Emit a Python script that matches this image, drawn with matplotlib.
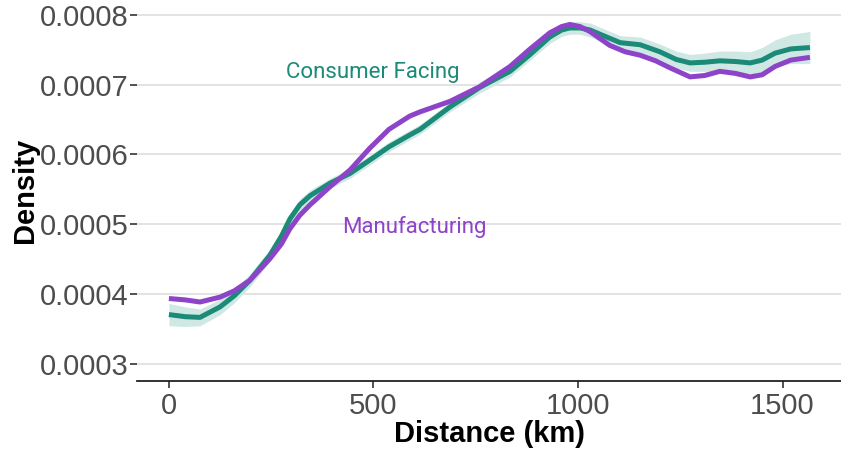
import numpy as np
import matplotlib.pyplot as plt

# distancias (km) y densidades
dist_cf = [0, 40, 76, 125, 160, 198, 247, 275, 296, 320, 345, 394, 443, 491, 538,
           589, 614, 687, 760, 834, 883, 931, 960, 980, 1005, 1030, 1054, 1103,
           1152, 1200, 1240, 1274, 1310, 1347, 1385, 1421, 1450, 1482, 1520, 1567]
dens_cf = [0.000371, 0.000368, 0.000367, 0.000382, 0.000398, 0.000420, 0.000456,
           0.000483, 0.000508, 0.000528, 0.000541, 0.000559, 0.000573, 0.000592,
           0.000611, 0.000628, 0.000636, 0.000668, 0.000696, 0.000719, 0.000743,
           0.000768, 0.000778, 0.000781, 0.000781, 0.000778, 0.000772, 0.000760,
           0.000757, 0.000747, 0.000736, 0.000731, 0.000732, 0.000734, 0.000733,
           0.000731, 0.000735, 0.000745, 0.000751, 0.000753]
# semiancho de la banda de confianza
banda_cf = [0.000016, 0.000014, 0.000012, 0.000011, 0.000010, 0.000009, 0.000009,
            0.000009, 0.000008, 0.000008, 0.000008, 0.000007, 0.000007, 0.000007,
            0.000007, 0.000007, 0.000007, 0.000007, 0.000008, 0.000008, 0.000008,
            0.000009, 0.000009, 0.000009, 0.000009, 0.000010, 0.000010, 0.000010,
            0.000011, 0.000011, 0.000012, 0.000012, 0.000013, 0.000014, 0.000015,
            0.000016, 0.000018, 0.000019, 0.000021, 0.000023]

dist_mf = [0, 40, 76, 125, 160, 198, 247, 275, 296, 320, 345, 394, 443, 491, 538,
           589, 614, 687, 760, 834, 883, 931, 960, 980, 1005, 1029, 1078, 1115,
           1152, 1190, 1225, 1274, 1310, 1347, 1385, 1421, 1450, 1482, 1520, 1567]
dens_mf = [0.000394, 0.000392, 0.000389, 0.000396, 0.000405, 0.000420, 0.000451,
           0.000472, 0.000494, 0.000513, 0.000528, 0.000554, 0.000578, 0.000609,
           0.000636, 0.000655, 0.000661, 0.000676, 0.000697, 0.000726, 0.000751,
           0.000774, 0.000783, 0.000786, 0.000783, 0.000776, 0.000756, 0.000747,
           0.000742, 0.000734, 0.000724, 0.000711, 0.000713, 0.000719, 0.000716,
           0.000711, 0.000714, 0.000726, 0.000735, 0.000739]

col_cf = '#1b8a78'
col_mf = '#8e44c8'

plt.rcParams['font.family'] = ['Liberation Sans', 'DejaVu Sans']

fig = plt.figure(figsize=(8.41, 4.51), dpi=100)
ax = fig.add_axes([137 / 841, 70 / 451, 704 / 841, 381 / 451])

x_cf = np.array(dist_cf)
y_cf = np.array(dens_cf)
b_cf = np.array(banda_cf)
ax.fill_between(x_cf, y_cf - b_cf, y_cf + b_cf, color='#cfe8e4', lw=0, zorder=2)
ax.plot(x_cf, y_cf, color=col_cf, lw=3.6, solid_joinstyle='round',
        solid_capstyle='butt', zorder=3)
ax.plot(dist_mf, dens_mf, color=col_mf, lw=3.6, solid_joinstyle='round',
        solid_capstyle='butt', zorder=4)

ax.text(499, 0.000718, 'Consumer Facing', color=col_cf, fontsize=16,
        ha='center', va='center', family=['Roboto', 'DejaVu Sans'])
ax.text(599, 0.000497, 'Manufacturing', color=col_mf, fontsize=16,
        ha='center', va='center', family=['Roboto', 'DejaVu Sans'])

ax.set_xlim(-78, 1643)
ax.set_ylim(0.000276, 0.000821)
ax.set_yticks([0.0003, 0.0004, 0.0005, 0.0006, 0.0007, 0.0008])
ax.set_yticklabels(['0.0003', '0.0004', '0.0005', '0.0006', '0.0007', '0.0008'])
ax.set_xticks([0, 500, 1000, 1500])

ax.grid(axis='y', color='#dedede', lw=1.2, zorder=0)
ax.set_axisbelow(True)
for s in ['top', 'right', 'left']:
    ax.spines[s].set_visible(False)
ax.spines['bottom'].set_color('#222222')
ax.spines['bottom'].set_linewidth(1.3)

ax.tick_params(axis='y', length=5, width=1.2, color='#333333',
               labelsize=21, labelcolor='#4d4d4d', pad=1)
ax.tick_params(axis='x', length=5, width=1.2, color='#333333',
               labelsize=21, labelcolor='#4d4d4d', pad=3)

ax.set_xlabel('Distance (km)', fontsize=21, fontweight='bold', labelpad=0)
ax.set_ylabel('Density', fontsize=21, fontweight='bold', labelpad=1)

fig.savefig('out.png', dpi=100)
